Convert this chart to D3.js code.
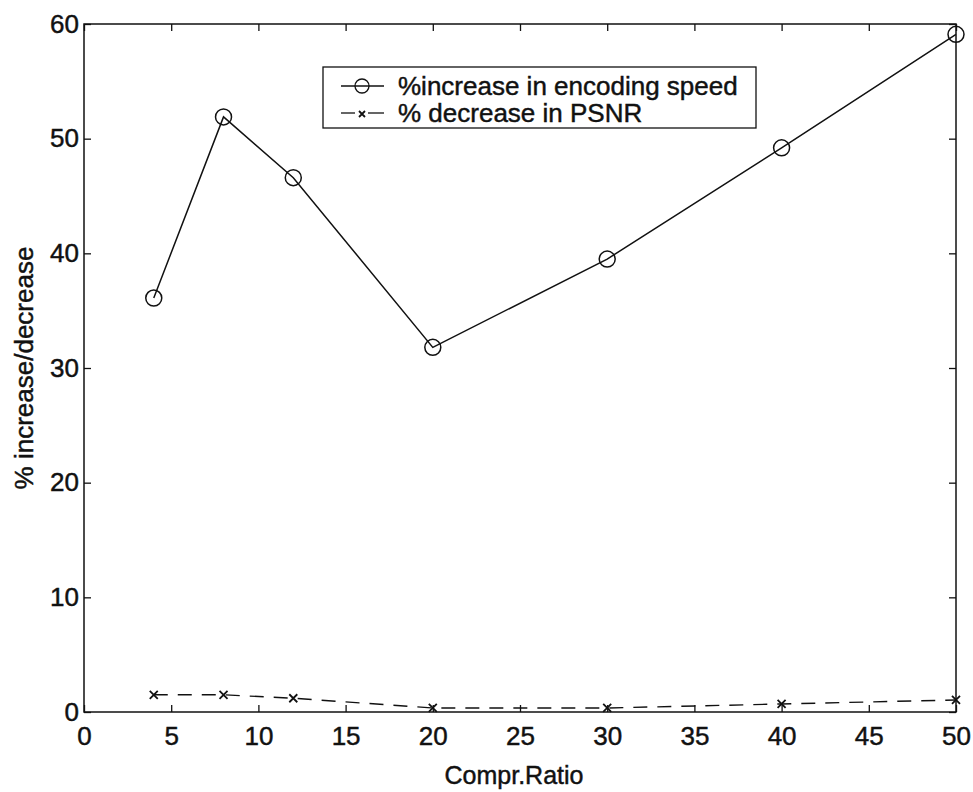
<!DOCTYPE html>
<html>
<head>
<meta charset="utf-8">
<script src="https://cdn.jsdelivr.net/npm/d3@7"></script>
<style>
  body { margin: 0; background: #fff; }
  text { font-family: "Liberation Sans", Arial, sans-serif; fill: #111; stroke: #111; stroke-width: 0.45px; }
</style>
</head>
<body>
<svg width="973" height="792"></svg>
<script>
// compression ratios
const ratios = [4, 8, 12, 20, 30, 40, 50];
// % increase in encoding speed
const speedGain = [36.1, 51.9, 46.6, 31.8, 39.5, 49.2, 59.1];
// % decrease in PSNR
const psnrLoss = [1.5, 1.5, 1.2, 0.35, 0.35, 0.7, 1.05];
const xTicks = [0, 5, 10, 15, 20, 25, 30, 35, 40, 45, 50];
const yTicks = [0, 10, 20, 30, 40, 50, 60];

const svg = d3.select("svg");
const mLeft = 84, mRight = 956, mTop = 24, mBottom = 712;

const x = d3.scaleLinear().domain([0, 50]).range([mLeft, mRight]);
const y = d3.scaleLinear().domain([0, 60]).range([mBottom, mTop]);

// frame
svg.append("rect")
  .attr("x", mLeft).attr("y", mTop)
  .attr("width", mRight - mLeft).attr("height", mBottom - mTop)
  .attr("fill", "none").attr("stroke", "#111").attr("stroke-width", 1.5);

// axes with inward ticks
const tickLen = 7;
const xb = svg.append("g").attr("transform", `translate(0,${mBottom})`)
  .call(d3.axisBottom(x).tickValues(xTicks).tickSizeInner(-tickLen).tickSizeOuter(0).tickPadding(12));
const xt = svg.append("g").attr("transform", `translate(0,${mTop})`)
  .call(d3.axisTop(x).tickValues(xTicks).tickSizeInner(-tickLen).tickSizeOuter(0).tickFormat(""));
const yl = svg.append("g").attr("transform", `translate(${mLeft},0)`)
  .call(d3.axisLeft(y).tickValues(yTicks).tickSizeInner(-tickLen).tickSizeOuter(0).tickPadding(5));
const yr = svg.append("g").attr("transform", `translate(${mRight},0)`)
  .call(d3.axisRight(y).tickValues(yTicks).tickSizeInner(-tickLen).tickSizeOuter(0).tickFormat(""));

[xb, xt, yl, yr].forEach(g => {
  g.select(".domain").remove();
  g.selectAll("line").attr("stroke", "#111").attr("stroke-width", 1.3);
  g.selectAll("text").attr("font-size", 26).attr("fill", "#111")
    .attr("font-family", "Liberation Sans, Arial, sans-serif");
});
xb.selectAll("text").attr("dy", "0.8em");

// speed line
const speedPts = ratios.map((r, i) => [x(r), y(speedGain[i])]);
svg.append("path")
  .attr("d", d3.line()(speedPts))
  .attr("fill", "none").attr("stroke", "#111").attr("stroke-width", 1.5);
svg.selectAll(".circ").data(speedPts).join("circle")
  .attr("cx", d => d[0]).attr("cy", d => d[1]).attr("r", 8)
  .attr("fill", "none").attr("stroke", "#111").attr("stroke-width", 1.5);

// psnr line
const psnrPts = ratios.map((r, i) => [x(r), y(psnrLoss[i])]);
svg.append("path")
  .attr("d", d3.line()(psnrPts))
  .attr("fill", "none").attr("stroke", "#111").attr("stroke-width", 1.4)
  .attr("stroke-dasharray", "14,10");
const cross = (g, cx, cy, s) => {
  g.append("path")
    .attr("d", `M${cx - s},${cy - s}L${cx + s},${cy + s}M${cx - s},${cy + s}L${cx + s},${cy - s}`)
    .attr("stroke", "#111").attr("stroke-width", 1.8);
};
psnrPts.forEach(p => cross(svg, p[0], p[1], 4));

// legend
const lg = svg.append("g");
lg.append("rect").attr("x", 323).attr("y", 67).attr("width", 433).attr("height", 61)
  .attr("fill", "#fff").attr("stroke", "#111").attr("stroke-width", 1.3);
lg.append("line").attr("x1", 341).attr("x2", 384).attr("y1", 86).attr("y2", 86)
  .attr("stroke", "#111").attr("stroke-width", 1.3);
lg.append("circle").attr("cx", 362).attr("cy", 86).attr("r", 7)
  .attr("fill", "none").attr("stroke", "#111").attr("stroke-width", 1.3);
lg.append("text").attr("x", 398).attr("y", 86).attr("dy", "0.35em")
  .attr("font-size", 26).text("%increase in encoding speed");
lg.append("line").attr("x1", 341).attr("x2", 355).attr("y1", 113).attr("y2", 113)
  .attr("stroke", "#111").attr("stroke-width", 1.3);
lg.append("line").attr("x1", 368).attr("x2", 384).attr("y1", 113).attr("y2", 113)
  .attr("stroke", "#111").attr("stroke-width", 1.3);
cross(lg, 362, 114, 3);
lg.append("text").attr("x", 398).attr("y", 113).attr("dy", "0.35em")
  .attr("font-size", 26).text("% decrease in PSNR");

// axis titles
svg.append("text").attr("x", 514).attr("y", 775).attr("dy", "0.35em")
  .attr("text-anchor", "middle").attr("font-size", 25).text("Compr.Ratio");
svg.append("text").attr("transform", "translate(24,368) rotate(-90)")
  .attr("dy", "0.35em").attr("text-anchor", "middle").attr("font-size", 26)
  .text("% increase/decrease");
</script>
</body>
</html>
